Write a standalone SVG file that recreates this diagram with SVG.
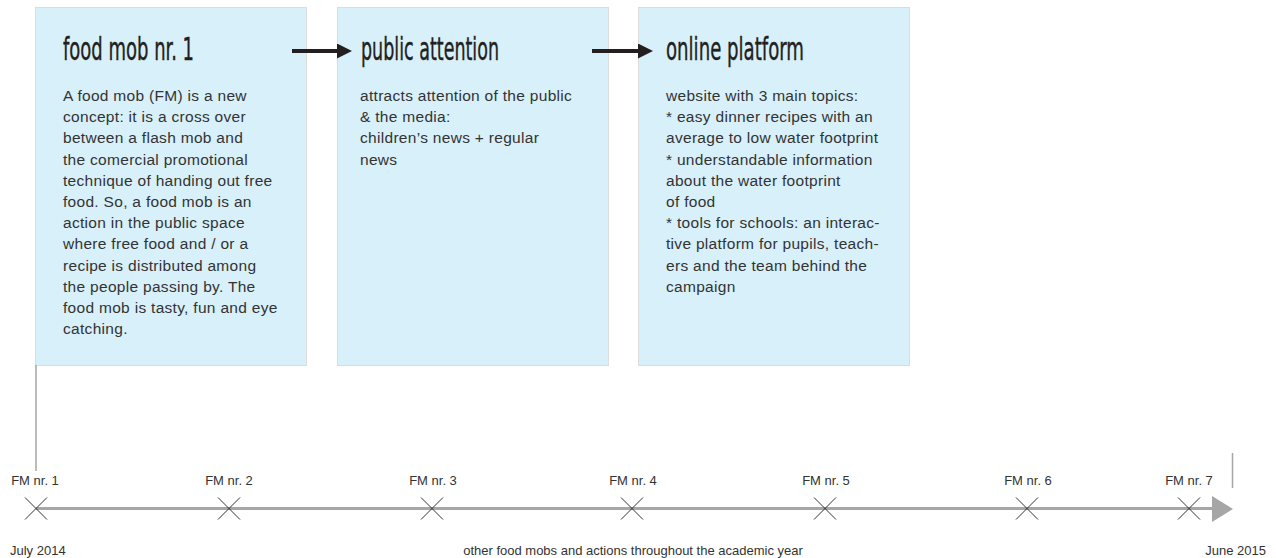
<svg xmlns="http://www.w3.org/2000/svg" width="1276" height="558" viewBox="0 0 1276 558">
  <style>
    .box { fill: #d8f0fa; stroke: #dcdcdc; stroke-width: 1; }
    .title { font-family: "DejaVu Sans Condensed", "DejaVu Sans", sans-serif; font-stretch: condensed; font-size: 32px; fill: #231f20; stroke: #231f20; stroke-width: 0.4px; }
    .body { font-family: "Liberation Sans", Arial, sans-serif; font-size: 15.5px; letter-spacing: 0.3px; fill: #333333; }
    .flow { stroke: #231f20; stroke-width: 4; fill: none; }
    .axis { stroke: #a6a6a6; stroke-width: 3; fill: none; }
    .tick { stroke: #333333; stroke-width: 1; fill: none; }
    .guide { stroke: #a6a6a6; stroke-width: 1.5; fill: none; }
    .lbl { font-family: "Liberation Sans", Arial, sans-serif; font-size: 13px; fill: #333333; }
  </style>
  <defs>
    <marker id="head" viewBox="0 0 10 10" refX="0" refY="5" markerWidth="3.75" markerHeight="3.75" orient="auto" markerUnits="strokeWidth">
      <path d="M0,0 L10,5 L0,10 Z" fill="#231f20"/>
    </marker>
  </defs>

  <rect width="1276" height="558" fill="#ffffff"/>

  <!-- stage 1 -->
  <g id="food-mob">
    <rect class="box" x="35.5" y="7.5" width="271" height="358"/>
    <text class="title" x="63" y="60" textLength="131" lengthAdjust="spacingAndGlyphs">food mob nr. 1</text>
    <text class="body">
      <tspan x="63" y="101">A food mob (FM) is a new</tspan>
      <tspan x="63" y="122.2">concept: it is a cross over</tspan>
      <tspan x="63" y="143.4">between a flash mob and</tspan>
      <tspan x="63" y="164.6">the comercial promotional</tspan>
      <tspan x="63" y="185.8">technique of handing out free</tspan>
      <tspan x="63" y="207">food. So, a food mob is an</tspan>
      <tspan x="63" y="228.2">action in the public space</tspan>
      <tspan x="63" y="249.4">where free food and / or a</tspan>
      <tspan x="63" y="270.6">recipe is distributed among</tspan>
      <tspan x="63" y="291.8">the people passing by. The</tspan>
      <tspan x="63" y="313">food mob is tasty, fun and eye</tspan>
      <tspan x="63" y="334.2">catching.</tspan>
    </text>
  </g>

  <!-- stage 2 -->
  <g id="public-attention">
    <rect class="box" x="337.5" y="7.5" width="271" height="358"/>
    <text class="title" x="361" y="60" textLength="138" lengthAdjust="spacingAndGlyphs">public attention</text>
    <text class="body">
      <tspan x="360" y="101">attracts attention of the public</tspan>
      <tspan x="360" y="122.2">&amp; the media:</tspan>
      <tspan x="360" y="143.4">children’s news + regular</tspan>
      <tspan x="360" y="164.6">news</tspan>
    </text>
  </g>

  <!-- stage 3 -->
  <g id="online-platform">
    <rect class="box" x="638.5" y="7.5" width="271" height="358"/>
    <text class="title" x="666" y="60" textLength="138" lengthAdjust="spacingAndGlyphs">online platform</text>
    <text class="body">
      <tspan x="666" y="101">website with 3 main topics:</tspan>
      <tspan x="666" y="122.2">* easy dinner recipes with an</tspan>
      <tspan x="666" y="143.4">average to low water footprint</tspan>
      <tspan x="666" y="164.6">* understandable information</tspan>
      <tspan x="666" y="185.8">about the water footprint</tspan>
      <tspan x="666" y="207">of food</tspan>
      <tspan x="666" y="228.2">* tools for schools: an interac-</tspan>
      <tspan x="666" y="249.4">tive platform for pupils, teach-</tspan>
      <tspan x="666" y="270.6">ers and the team behind the</tspan>
      <tspan x="666" y="291.8">campaign</tspan>
    </text>
  </g>

  <!-- connectors between stages -->
  <g id="connectors">
    <line class="flow" x1="292" y1="51" x2="337" y2="51" marker-end="url(#head)"/>
    <line class="flow" x1="592" y1="51" x2="638" y2="51" marker-end="url(#head)"/>
  </g>

  <!-- timeline -->
  <g id="timeline">
    <line class="guide" x1="36" y1="365" x2="36" y2="471"/>
    <line class="guide" x1="1232.5" y1="453" x2="1232.5" y2="488"/>
    <line class="axis" x1="36" y1="508.5" x2="1214" y2="508.5"/>
    <path d="M1212,496 L1233,509 L1212,522 Z" fill="#a6a6a6"/>
    <g class="tick">
      <path d="M25,497.5 L47,519.5 M47,497.5 L25,519.5"/>
      <path d="M218,497.5 L240,519.5 M240,497.5 L218,519.5"/>
      <path d="M421,497.5 L443,519.5 M443,497.5 L421,519.5"/>
      <path d="M621,497.5 L643,519.5 M643,497.5 L621,519.5"/>
      <path d="M814,497.5 L836,519.5 M836,497.5 L814,519.5"/>
      <path d="M1016,497.5 L1038,519.5 M1038,497.5 L1016,519.5"/>
      <path d="M1178,497.5 L1200,519.5 M1200,497.5 L1178,519.5"/>
    </g>
    <g class="lbl" text-anchor="middle">
      <text x="35" y="485">FM nr. 1</text>
      <text x="229" y="485">FM nr. 2</text>
      <text x="433" y="485">FM nr. 3</text>
      <text x="633" y="485">FM nr. 4</text>
      <text x="826" y="485">FM nr. 5</text>
      <text x="1028" y="485">FM nr. 6</text>
      <text x="1189" y="485">FM nr. 7</text>
    </g>
    <text class="lbl" x="10" y="555">July 2014</text>
    <text class="lbl" x="633" y="555" text-anchor="middle">other food mobs and actions throughout the academic year</text>
    <text class="lbl" x="1266" y="555" text-anchor="end">June 2015</text>
  </g>
</svg>
